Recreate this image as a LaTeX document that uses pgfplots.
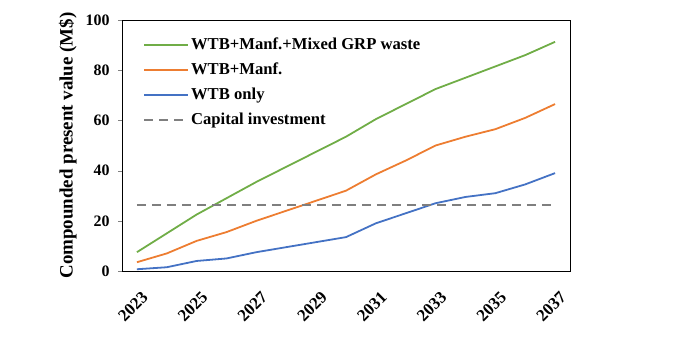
\documentclass[border=0pt]{standalone}
\usepackage{fontspec}
\setmainfont{Liberation Serif}
\usepackage{pgfplots}
\pgfplotsset{compat=1.18}

\definecolor{cgreen}{RGB}{112,173,71}
\definecolor{corange}{RGB}{237,125,49}
\definecolor{cblue}{RGB}{68,114,196}
\definecolor{cgray}{RGB}{127,127,127}

\begin{document}
\begin{tikzpicture}
\path[use as bounding box] (-122bp,-77bp) rectangle (561bp,271bp);
\begin{axis}[
  scale only axis,
  width=448bp, height=251bp,
  xmin=2022.5, xmax=2037.5,
  ymin=0, ymax=100,
  xtick={2023,2025,...,2037},
  xticklabels={2023,2025,2027,2029,2031,2033,2035,2037},
  ytick={0,20,...,100},
  /pgf/number format/assume math mode=true,
  xticklabel shift=14bp,
  xticklabel style={rotate=45, anchor=north east, inner sep=1bp, xshift=2.8bp, yshift=-2.8bp,
    font=\bfseries\fontsize{17}{17}\selectfont},
  yticklabel style={font=\bfseries\fontsize{16}{16}\selectfont, xshift=-5bp},
  major x tick style={draw=none},
  ytick pos=left,
  tick align=outside,
  major tick length=4bp,
  axis line style={black, line width=0.9pt},
  ylabel={\bfseries Compounded present value (M\$)},
  ylabel style={font=\fontsize{19}{20}\selectfont, yshift=2bp},
  legend cell align=left,
  legend style={draw=none, fill=none, at={(0.04,0.945)}, anchor=north west,
    font=\bfseries\fontsize{16.7}{17}\selectfont, row sep=8bp},
  legend image code/.code={\draw[#1] (0bp,0bp) -- (44bp,0bp);},
  legend image post style={line width=2pt},
  every axis plot/.append style={line width=1.8pt},
]
\addplot[cgreen] coordinates {
  (2023,7.5) (2024,15) (2025,22.5) (2026,29) (2027,35.5) (2028,41.5) (2029,47.5)
  (2030,53.5) (2031,60.5) (2032,66.5) (2033,72.5) (2034,77) (2035,81.5) (2036,86) (2037,91.3)
};
\addlegendentry{WTB+Manf.+Mixed GRP waste}
\addplot[corange] coordinates {
  (2023,3.5) (2024,7) (2025,12) (2026,15.5) (2027,20) (2028,24) (2029,28)
  (2030,32) (2031,38.5) (2032,44) (2033,50) (2034,53.5) (2035,56.5) (2036,61) (2037,66.5)
};
\addlegendentry{WTB+Manf.}
\addplot[cblue] coordinates {
  (2023,0.7) (2024,1.5) (2025,4) (2026,5) (2027,7.5) (2028,9.5) (2029,11.5)
  (2030,13.5) (2031,19) (2032,23) (2033,27) (2034,29.5) (2035,31) (2036,34.5) (2037,39)
};
\addlegendentry{WTB only}
\addplot[cgray, dash pattern=on 9bp off 6bp] coordinates {
  (2023,26.3) (2037,26.3)
};
\addlegendentry{Capital investment}
\end{axis}
\end{tikzpicture}
\end{document}
